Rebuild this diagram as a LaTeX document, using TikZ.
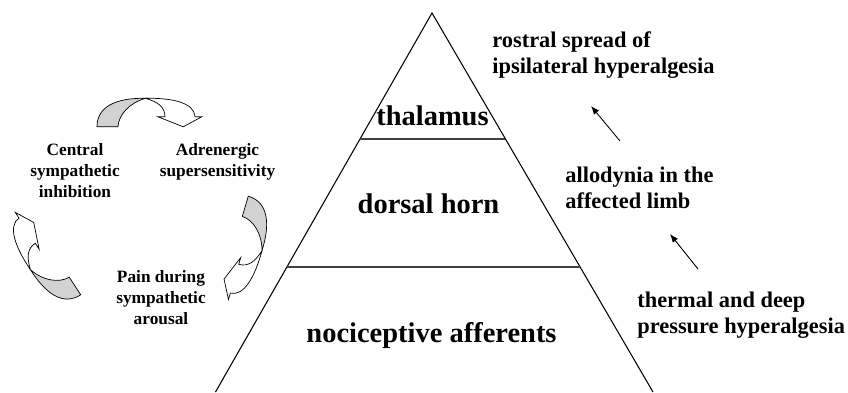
\documentclass[tikz,border=0pt]{standalone}
\usepackage{fontspec}
\setmainfont{Liberation Serif}
\usepackage{tikz}
\usetikzlibrary{arrows.meta,positioning,calc}
\definecolor{bandGray}{HTML}{D2D2D2}

\begin{document}
\begin{tikzpicture}[
  layer/.style={inner sep=0pt, anchor=base, font=\fontsize{16.2}{19}\selectfont\bfseries},
  side/.style={inner sep=0pt, anchor=base west, align=left, font=\fontsize{12.75}{14.7}\selectfont\bfseries},
  cyc/.style={inner sep=0pt, anchor=base, align=center, font=\fontsize{9.85}{11.8}\selectfont\bfseries},
  divider/.style={line width=0.9pt, black!75},
  up/.style={-{Latex[length=1.7mm,width=1.3mm]}, line width=0.5pt},
  twist/.pic={
    % back of the band (grey), then the front with the head
    \draw[fill=bandGray, line width=0.4pt] (-0.21,0) .. controls (-0.21,0.4) and (0.16,0.58) .. (0.76,0.57)
      .. controls (0.44,0.48) and (0.22,0.24) .. (0.21,0) -- cycle;
    \draw[fill=white, line width=0.4pt] (0.76,0.57) .. controls (1.3,0.58) and (1.74,0.48) .. (1.75,0.2)
      -- (1.884,0.2) -- (1.516,0) -- (1.01,0.2) -- (1.15,0.2)
      .. controls (1.15,0.4) and (1.0,0.5) .. (0.76,0.57);
  }]
\useasboundingbox (0,0) rectangle (16.96,7.84);
% pyramid
\coordinate (apex) at (8.64,7.58);
\coordinate (bl) at (4.31,0);
\coordinate (br) at (13.06,0);
\draw[line width=0.6pt] (bl) -- (apex) -- (br);
\draw[divider] ($(apex)!0.3325!(bl)$) -- ($(apex)!0.3325!(br)$);
\draw[divider] ($(apex)!0.67!(bl)$) -- ($(apex)!0.67!(br)$);
\node[layer] (thal) at (8.65,5.34) {thalamus};
\node[layer] (dors) at (8.57,3.58) {dorsal horn};
\node[layer] (noci) at (8.63,1.0) {nociceptive afferents};
% clinical signs on the right (base = last line)
\node[side] (rostral) at (9.84,6.38) {rostral spread of\\ipsilateral hyperalgesia};
\node[side] (allod) at (11.3,3.68) {allodynia in the\\affected limb};
\node[side] (therm) at (12.74,1.18) {thermal and deep\\pressure hyperalgesia};
\coordinate (up1s) at (13.96,2.46);
\coordinate (up1e) at (13.4,3.16);
\coordinate (up2s) at (12.4,5.02);
\coordinate (up2e) at (11.82,5.72);
\draw[up] (up1s) -- (up1e);
\draw[up] (up2s) -- (up2e);
% vicious circle on the left
\node[cyc] (central) at (1.5,3.9) {Central\\sympathetic\\inhibition};
\node[cyc] (adren) at (4.35,4.32) {Adrenergic\\supersensitivity};
\node[cyc] (painsym) at (3.22,1.36) {Pain during\\sympathetic\\arousal};
\pic at (2.15,5.304) {twist};
\pic[rotate=-106.3] at (4.906,3.714) {twist};
\pic[rotate=123] at (1.5,2.12) {twist};
\end{tikzpicture}
\end{document}
